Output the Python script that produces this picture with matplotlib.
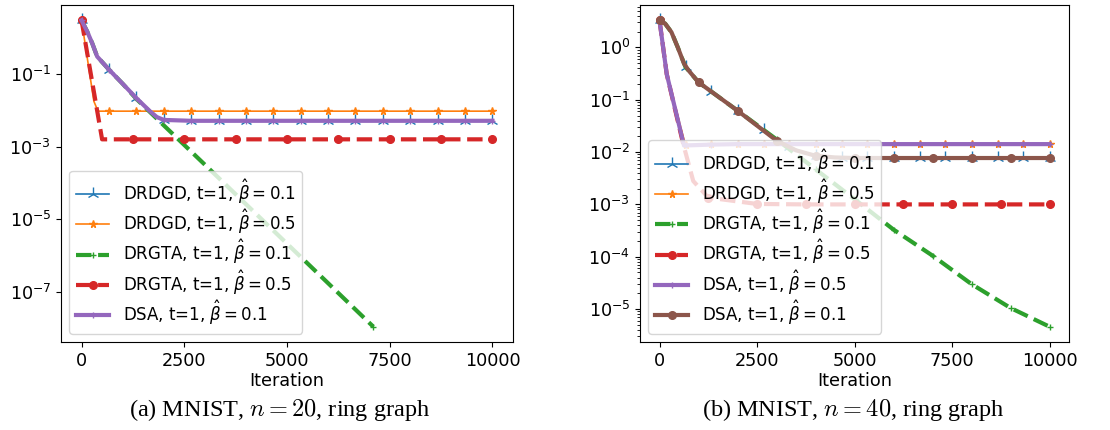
import numpy as np
import matplotlib
matplotlib.use("Agg")
import matplotlib.pyplot as plt
from matplotlib.ticker import NullLocator

# ---------------- data: panel (a) MNIST, n=20 ----------------
a_it_drdgd01 = [0, 140, 260, 380, 667, 1000, 1333, 1667, 1833, 2000, 2667, 3333, 4000,
                4667, 5333, 6000, 6667, 7333, 8000, 8667, 9333, 10000]
a_drdgd01 = [3.1, 1.5, 0.72, 0.31, 0.135, 0.055, 0.022, 9.5e-3, 6.6e-3, 5.5e-3, 5.2e-3,
             5.2e-3, 5.2e-3, 5.2e-3, 5.2e-3, 5.2e-3, 5.2e-3, 5.2e-3, 5.2e-3, 5.2e-3,
             5.2e-3, 5.2e-3]

a_it_drdgd05 = [0, 300, 400, 667, 1333, 2000, 2667, 3333, 4000, 4667, 5333, 6000, 6667,
                7333, 8000, 8667, 9333, 10000]
a_drdgd05 = [3.1, 0.018, 9.6e-3, 9.6e-3, 9.6e-3, 9.6e-3, 9.6e-3, 9.6e-3, 9.6e-3, 9.6e-3,
             9.6e-3, 9.6e-3, 9.6e-3, 9.6e-3, 9.6e-3, 9.6e-3, 9.6e-3, 9.6e-3]

a_it_drgta01 = [0, 140, 260, 380, 667, 1000, 1333, 2000, 3000, 4000, 5000, 6000, 7100]
a_drgta01 = [3.1, 1.5, 0.72, 0.31, 0.135, 0.055, 0.021, 3.9e-3, 3.2e-4, 2.6e-5, 2.1e-6,
             1.7e-7, 1.07e-8]

a_it_drgta05 = [0, 500, 1250, 2500, 3750, 5000, 6250, 7500, 8750, 10000]
a_drgta05 = [3.1, 1.6e-3, 1.6e-3, 1.6e-3, 1.6e-3, 1.6e-3, 1.6e-3, 1.6e-3, 1.6e-3, 1.6e-3]

a_it_dsa01 = a_it_drdgd01
a_dsa01 = [3.1, 1.5, 0.72, 0.31, 0.135, 0.055, 0.022, 9.5e-3, 6.6e-3, 5.5e-3, 5.2e-3,
           5.2e-3, 5.2e-3, 5.2e-3, 5.2e-3, 5.2e-3, 5.2e-3, 5.2e-3, 5.2e-3, 5.2e-3,
           5.2e-3, 5.2e-3]

a_yticks = [1e-1, 1e-3, 1e-5, 1e-7]

# ---------------- data: panel (b) MNIST, n=40 ----------------
b_it_drdgd01 = [0, 145, 306, 467, 667, 750, 1000, 1333, 2000, 2667, 3000, 3333, 4000,
                4667, 5333, 6000, 6667, 7333, 8000, 8667, 9333, 10000]
b_drdgd01 = [3.3, 2.85, 1.96, 1.01, 0.42, 0.36, 0.216, 0.143, 0.062, 0.027, 0.0175,
             0.0125, 8.4e-3, 7.8e-3, 7.7e-3, 7.7e-3, 7.7e-3, 7.7e-3, 7.7e-3, 7.7e-3,
             7.7e-3, 7.7e-3]

b_it_drdgd05 = [0, 185, 667, 1333, 2000, 2667, 3333, 4000, 4667, 5333, 6000, 6667, 7333,
                8000, 8667, 9333, 10000]
b_drdgd05 = [3.3, 0.31, 0.0135, 0.014, 0.0141, 0.0141, 0.0141, 0.0141, 0.0141, 0.0141,
             0.0141, 0.0141, 0.0141, 0.0141, 0.0141, 0.0141, 0.0141]

b_it_drgta01 = [0, 145, 306, 467, 667, 750, 1000, 2000, 3000, 4000, 5000, 6000, 7000,
                8000, 9000, 10000]
b_drgta01 = [3.3, 2.85, 1.96, 1.01, 0.42, 0.36, 0.216, 0.062, 0.0175, 4.7e-3, 1.26e-3,
             3.3e-4, 1.05e-4, 3.0e-5, 1.05e-5, 4.6e-6]

b_it_drgta05 = [0, 185, 606, 865, 1250, 2500, 3750, 5000, 6250, 7500, 8750, 10000]
b_drgta05 = [3.3, 0.31, 0.0145, 2.8e-3, 1.35e-3, 1.02e-3, 1.0e-3, 1.0e-3, 1.0e-3, 1.0e-3,
             1.0e-3, 1.0e-3]

b_it_dsa05 = [0, 185, 629, 667, 1333, 2000, 2667, 3333, 4000, 4667, 5333, 6000, 6667,
              7333, 8000, 8667, 9333, 10000]
b_dsa05 = [3.3, 0.31, 0.0133, 0.0134, 0.0139, 0.0142, 0.0142, 0.0142, 0.0142, 0.0142,
           0.0142, 0.0142, 0.0142, 0.0142, 0.0142, 0.0142, 0.0142, 0.0142]

b_it_dsa01 = [0, 145, 306, 467, 629, 750, 1000, 2000, 3000, 3500, 4000, 4500, 5000, 6000,
              7000, 8000, 9000, 10000]
b_dsa01 = [3.3, 2.85, 1.96, 1.01, 0.49, 0.36, 0.216, 0.062, 0.0166, 0.0108, 8.5e-3,
           7.9e-3, 7.7e-3, 7.7e-3, 7.7e-3, 7.7e-3, 7.7e-3, 7.7e-3]

x_ticks = [0, 2500, 5000, 7500, 10000]

lab = {
    "drdgd01": r"DRDGD, t=1, $\hat{\beta}=0.1$",
    "drdgd05": r"DRDGD, t=1, $\hat{\beta}=0.5$",
    "drgta01": r"DRGTA, t=1, $\hat{\beta}=0.1$",
    "drgta05": r"DRGTA, t=1, $\hat{\beta}=0.5$",
    "dsa05": r"DSA, t=1, $\hat{\beta}=0.5$",
    "dsa01": r"DSA, t=1, $\hat{\beta}=0.1$",
}
captions = [r"(a) MNIST, $n=20$, ring graph", r"(b) MNIST, $n=40$, ring graph"]


def marks(it, step, last=False):
    idx = [i for i, v in enumerate(it) if abs(v / step - round(v / step)) * step < 2]
    if last and (len(it) - 1) not in idx:
        idx.append(len(it) - 1)
    return idx


FS = 12.7
LFS = 12
plt.rcParams["font.size"] = FS
fig = plt.figure(figsize=(11.1, 4.3), dpi=100)
axL = fig.add_axes([61 / 1110, 1 - 342 / 430, (513 - 61) / 1110, 337 / 430])
axR = fig.add_axes([640 / 1110, 1 - 342 / 430, (1069 - 640) / 1110, 337 / 430])

S667 = 10000 / 15
MS_TRI, MS_STAR, MS_PLUS, MS_O = 9.5, 5.5, 5, 5.5

# panel a
axL.plot(a_it_drdgd01, a_drdgd01, color="C0", lw=1.2, marker="2", ms=MS_TRI,
         markevery=marks(a_it_drdgd01, S667), label=lab["drdgd01"])
axL.plot(a_it_drdgd05, a_drdgd05, color="C1", lw=1.2, marker="*", ms=MS_STAR,
         markevery=marks(a_it_drdgd05, S667), label=lab["drdgd05"])
axL.plot(a_it_drgta01, a_drgta01, color="C2", lw=3, ls="--", marker="+", ms=MS_PLUS,
         markevery=[len(a_it_drgta01) - 1], label=lab["drgta01"])
axL.plot(a_it_drgta05, a_drgta05, color="C3", lw=3, ls="--", marker="o", ms=MS_O,
         markevery=marks(a_it_drgta05, 1250), label=lab["drgta05"])
axL.plot(a_it_dsa01, a_dsa01, color="C4", lw=3, marker="+", ms=MS_PLUS,
         markevery=marks(a_it_dsa01, S667), label=lab["dsa01"])

# panel b
axR.plot(b_it_drdgd01, b_drdgd01, color="C0", lw=1.2, marker="2", ms=MS_TRI,
         markevery=marks(b_it_drdgd01, S667), label=lab["drdgd01"])
axR.plot(b_it_drdgd05, b_drdgd05, color="C1", lw=1.2, marker="*", ms=MS_STAR,
         markevery=marks(b_it_drdgd05, S667), label=lab["drdgd05"])
axR.plot(b_it_drgta01, b_drgta01, color="C2", lw=3, ls="--", marker="+", ms=MS_PLUS,
         markevery=marks(b_it_drgta01, 1000), label=lab["drgta01"])
axR.plot(b_it_drgta05, b_drgta05, color="C3", lw=3, ls="--", marker="o", ms=MS_O,
         markevery=marks(b_it_drgta05, 1250), label=lab["drgta05"])
axR.plot(b_it_dsa05, b_dsa05, color="C4", lw=3, marker="+", ms=MS_PLUS,
         markevery=marks(b_it_dsa05, S667), label=lab["dsa05"])
axR.plot(b_it_dsa01, b_dsa01, color="C5", lw=3, marker="o", ms=MS_O,
         markevery=marks(b_it_dsa01, 1000), label=lab["dsa01"])

for ax, cap, cx in [(axL, captions[0], 280 / 1110), (axR, captions[1], 853 / 1110)]:
    ax.set_yscale("log")
    ax.set_xlabel("Iteration", fontsize=FS, labelpad=2)
    ax.set_xticks(x_ticks)
    ax.tick_params(labelsize=FS)
    ax.legend(loc="lower left", fontsize=LFS, labelspacing=0.1)
    fig.text(cx, 1 - 410 / 430, cap, ha="center", va="center", fontsize=17.5,
             family="Liberation Serif", math_fontfamily="cm")

axL.set_yticks(a_yticks)
axL.yaxis.set_minor_locator(NullLocator())

fig.savefig("out.png", dpi=100)
